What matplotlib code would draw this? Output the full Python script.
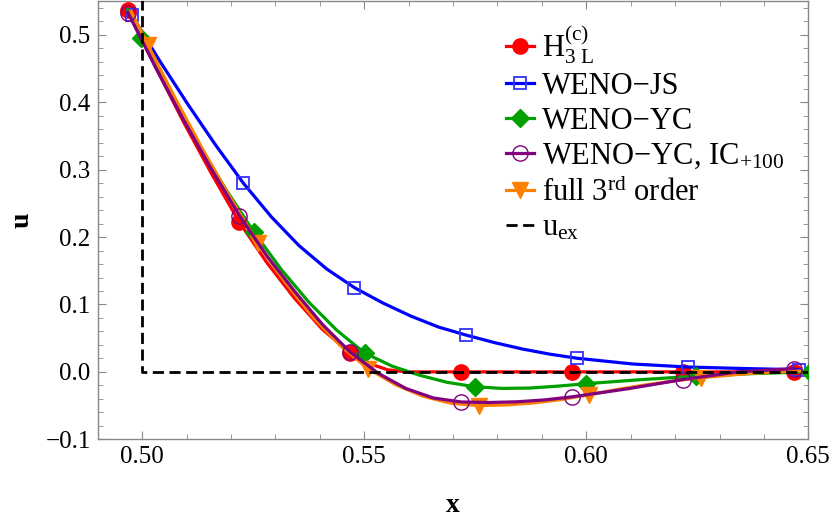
import numpy as np
import matplotlib
matplotlib.use('Agg')
import matplotlib.pyplot as plt

plt.rcParams['font.family'] = ['Liberation Serif', 'DejaVu Serif']
plt.rcParams['mathtext.fontset'] = 'custom'
plt.rcParams['mathtext.rm'] = 'Liberation Serif'
plt.rcParams['mathtext.it'] = 'Liberation Serif:italic'
plt.rcParams['mathtext.bf'] = 'Liberation Serif:bold'

# H3L^(c)
h3l_x = [0.4968, 0.50305, 0.5093, 0.51555, 0.5218, 0.5281, 0.53435, 0.5406, 0.5469,
         0.5511, 0.5553, 0.5595, 0.5718, 0.5968, 0.6218, 0.6468]
h3l_y = [0.537, 0.452, 0.371, 0.295, 0.223, 0.162, 0.109, 0.063, 0.028,
         0.0125, 0.0031, 0.0, 0.0, 0.0, 0.0, 0.0]
h3l_mk = [0, 4, 8, 12, 13, 14, 15]

# WENO-JS
js_x = [0.4977, 0.5040, 0.5103, 0.5165, 0.5228, 0.5291, 0.5353, 0.5416, 0.5478, 0.5541,
        0.5604, 0.5667, 0.573, 0.5793, 0.5855, 0.5918, 0.598, 0.6105, 0.623, 0.6355, 0.648]
js_y = [0.529, 0.461, 0.397, 0.337, 0.280, 0.230, 0.1875, 0.1525, 0.125, 0.1026,
        0.0831, 0.0666, 0.0545, 0.0435, 0.0341, 0.0263, 0.0202, 0.0117, 0.0072, 0.005, 0.0032]
js_mk = [0, 4, 8, 12, 16, 18, 20]

# WENO-YC
yc_x = [0.4968, 0.4998, 0.50613, 0.51245, 0.51878, 0.5251, 0.53135, 0.5376, 0.54385, 0.5501,
        0.5563, 0.5625, 0.5687, 0.5749, 0.581, 0.5872, 0.5935, 0.6, 0.6123, 0.6246, 0.6375, 0.6503]
yc_y = [0.537, 0.496, 0.4156, 0.3408, 0.2716, 0.208, 0.1518, 0.103, 0.0617, 0.028,
        0.0085, -0.005, -0.0155, -0.022, -0.0245, -0.024, -0.0212, -0.0175, -0.0115, -0.0064, -0.0025, 0.0]
yc_mk = [1, 5, 9, 13, 17, 19, 21]

# WENO-YC, IC+100
ic_x = [0.4968, 0.50308, 0.50935, 0.51563, 0.5219, 0.52815, 0.5344, 0.54065, 0.5469, 0.55313,
        0.55935, 0.56558, 0.5718, 0.57805, 0.5843, 0.59055, 0.5968, 0.6093, 0.6218, 0.6343, 0.6468]
ic_y = [0.533, 0.4511, 0.3736, 0.3005, 0.232, 0.1716, 0.119, 0.0701, 0.029, -0.0019,
        -0.0245, -0.0387, -0.0446, -0.0454, -0.0444, -0.0416, -0.037, -0.0251, -0.0113, 0.0001, 0.005]
ic_mk = [0, 4, 8, 12, 16, 18, 20]

# full 3rd order
f3_x = [0.4975, 0.5013, 0.50748, 0.51365, 0.51983, 0.526, 0.5322, 0.5384, 0.5446, 0.5508,
        0.5571, 0.5633, 0.5696, 0.5758, 0.582, 0.58825, 0.59445, 0.6007, 0.6070, 0.6133,
        0.6196, 0.6259, 0.63695, 0.648]
f3_y = [0.535, 0.485, 0.4055, 0.330, 0.2585, 0.191, 0.1331, 0.0818, 0.0391, 0.005,
        -0.0191, -0.0363, -0.0466, -0.050, -0.049, -0.046, -0.0409, -0.0338, -0.0261, -0.0193,
        -0.0135, -0.0086, -0.0022, 0.0013]
f3_mk = [1, 5, 9, 13, 17, 21]

# exact solution
ex_x = [0.5, 0.5, 0.65]
ex_y = [1.0, 0.0, 0.0]

fig = plt.figure(figsize=(8.3, 5.17), dpi=100)
ax = fig.add_axes([0.1177, 0.1503, 0.8562, 0.8487])

lw = 2.3
ax.plot(h3l_x, h3l_y, color='#FF0000', lw=lw, marker='o', ms=11, markevery=h3l_mk,
        label=r'$\mathrm{H}_{3\ \mathrm{L}}^{(\mathrm{c})}$', zorder=3)
ax.plot(js_x, js_y, color='#0000FF', lw=lw, marker='s', ms=9, mfc='none', mec='#3333FF', mew=1.3,
        markevery=js_mk, label='WENO\u2212JS', zorder=3)
ax.plot(yc_x, yc_y, color='#00A000', lw=lw, marker='D', ms=9, markevery=yc_mk,
        label='WENO\u2212YC', zorder=3)
ax.plot(ic_x, ic_y, color='#800080', lw=lw, marker='o', ms=11, mfc='none', mew=1.0,
        markevery=ic_mk, label=r'WENO$-$YC, IC$_{+100}$', zorder=4)
ax.plot(f3_x, f3_y, color='#FF8000', lw=lw, marker='v', ms=11, markevery=f3_mk,
        label=r'full 3$^{\mathrm{rd}}$ order', zorder=3)
ax.plot(ex_x, ex_y, color='black', lw=2.0, ls=(0, (4, 2)), label=r'u$_{\mathrm{ex}}$', zorder=5)

ax.set_xlim(0.49, 0.65)
ax.set_ylim(-0.1, 0.551)
ax.set_xticks([0.50, 0.55, 0.60, 0.65])
ax.set_xticklabels(['0.50', '0.55', '0.60', '0.65'])
ax.set_yticks([-0.1, 0.0, 0.1, 0.2, 0.3, 0.4, 0.5])
ax.set_yticklabels(['\u22120.1', '0.0', '0.1', '0.2', '0.3', '0.4', '0.5'])
ax.set_xticks(np.arange(0.49, 0.651, 0.01), minor=True)
ax.set_yticks(np.arange(-0.1, 0.55, 0.02), minor=True)

for s in ax.spines.values():
    s.set_color('#888888')
    s.set_linewidth(1.0)
ax.tick_params(which='both', direction='in', top=True, right=True, color='#888888')
ax.tick_params(which='major', length=6, labelsize=18, pad=5)
ax.tick_params(which='minor', length=3.5)

ax.set_xlabel('x', fontsize=20, fontweight='bold', labelpad=18)
ax.set_ylabel('u', fontsize=20, fontweight='bold', labelpad=8)

ax.legend(loc='upper left', bbox_to_anchor=(0.544, 0.999), frameon=False, fontsize=22,
          handlelength=0.92, handletextpad=0.28, labelspacing=0.195, borderpad=0.2)

fig.savefig('out.png', dpi=100)
